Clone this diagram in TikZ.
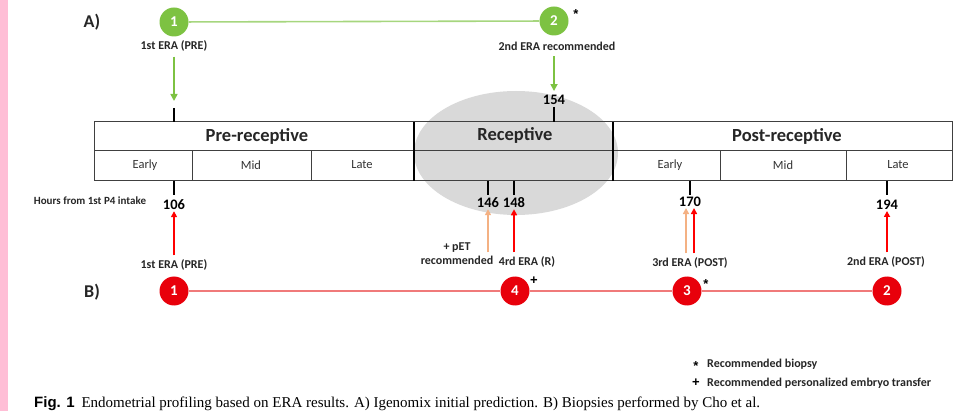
\documentclass[tikz,border=0pt]{standalone}
\usepackage{fontspec}
\setmainfont{Carlito}
\newfontfamily\capserif{Liberation Serif}
\newfontfamily\capsans{Liberation Sans}
\usetikzlibrary{arrows.meta,positioning,calc}
\definecolor{eragreen}{HTML}{7DC242}
\definecolor{eragreenline}{HTML}{A6D67E}
\definecolor{erared}{HTML}{E8000B}
\definecolor{eraredline}{HTML}{F07A7A}
\definecolor{arrred}{HTML}{FF0000}
\definecolor{arrpeach}{HTML}{F4B183}
\definecolor{recgrey}{HTML}{D9D9D9}
\definecolor{edgepink}{HTML}{FFBED6}
\begin{document}
\begin{tikzpicture}
% 1 unit = 1pt = 1px of the reference, y grows downwards
[x=1pt,y=-1pt,
 dot/.style={circle,minimum size=29pt,inner sep=0pt,text=white,font=\fontsize{15}{15}\selectfont\bfseries},
 gdot/.style={dot,fill=eragreen},
 rdot/.style={dot,fill=erared},
 lbl/.style={inner sep=1pt,font=\fontsize{12}{14}\selectfont\bfseries,text=black!85},
 num/.style={inner sep=1pt,font=\fontsize{14.5}{14.5}\selectfont\bfseries},
 phase/.style={font=\fontsize{18.5}{18.5}\selectfont\bfseries,text=black!85},
 cell/.style={font=\fontsize{12.5}{12.5}\selectfont,text=black!80},
 part/.style={font=\fontsize{18}{18}\selectfont\bfseries,text=black!85},
 supmark/.style={inner sep=0pt,font=\capsans\fontsize{13}{13}\selectfont\bfseries},
 boxline/.style={draw=black!75,line width=1pt},
 divider/.style={draw=black,line width=2.8pt},
 tick/.style={draw=black,line width=2.6pt},
 garrow/.style={draw=eragreen,line width=1.6pt,-{Triangle[width=7pt,length=7pt]}},
 rarrow/.style={draw=arrred,line width=2pt,-{Triangle[width=6pt,length=6pt]}},
 parrow/.style={draw=arrpeach,line width=2pt,-{Triangle[width=6pt,length=6pt]}}]
\useasboundingbox (0,0) rectangle (960,411);
\clip (0,0) rectangle (960,411);
\fill[edgepink] (0,0) rectangle (8,411);
% receptive window
\fill[recgrey] (516,153) ellipse [x radius=102,y radius=62];
% phase table
\draw[boxline] (94,122) rectangle (952,181);
\draw[boxline] (94,151) -- (952,151);
\foreach \x in {192,311,720,846}{
	\draw[boxline] (\x,151) -- (\x,181);}
\draw[divider] (414,122) -- (414,181);
\draw[divider] (613,122) -- (613,181);
\node[phase] (pre) at (257,136) {Pre-receptive};
\node[phase] (rec) at (515,135) {Receptive};
\node[phase] (post) at (787,136) {Post-receptive};
\foreach \x/\t [count=\i] in {145/Early,251/Mid,362/Late,670/Early,783/Mid,898/Late}{
	\node[cell] (c\i) at (\x,165) {\t};}
% A) initial prediction
\node[part] (pa) at (92,22) {A)};
\node[gdot] (g1) at (174,22) {1};
\node[gdot] (g2) at (554,21) {2};
\draw[eragreenline,line width=1.6pt] (g1) -- (g2);
\node[supmark] (g2s) at ($(g2.center)+(22,-7)$) {*};
\node[lbl] (g1lbl) at (174,46) {1st ERA (PRE)};
\node[lbl] (g2lbl) at (557,46) {2nd ERA recommended};
\coordinate (t106) at (174,108);
\draw[tick] (t106) -- (174,122);
\node[num] (n154) at (554,100) {154};
\draw[tick] (554,107) -- (554,122);
\draw[garrow,shorten <=4pt,shorten >=7pt] (g1lbl) -- (t106);
\draw[garrow,shorten <=5pt,shorten >=3pt] (n154 |- g2lbl.south) -- (n154.north);
% hours from 1st P4 intake
\node[inner sep=0pt,font=\fontsize{11}{11}\selectfont\bfseries,text=black!85] (hrs) at (90,201) {Hours from 1st P4 intake};
\foreach \x/\y/\n in {174/205/106,488/203/146,514/203/148,690/202/170,887/205/194}{
	\draw[tick] (\x,181) -- (\x,195);
	\node[num] (n\n) at (\x,\y) {\n};}
% B) biopsies performed
\node[part] (pb) at (92,292) {B)};
\node[rdot] (r1) at (174,291) {1};
\node[rdot] (r4) at (515,291) {4};
\node[rdot] (r3) at (687,291) {3};
\node[rdot] (r2) at (887,291) {2};
\draw[eraredline,line width=1.6pt] (r1) -- (r4) -- (r3) -- (r2);
\node[supmark] (r4s) at ($(r4.center)+(19,-10)$) {+};
\node[supmark] (r3s) at ($(r3.center)+(19,-7)$) {*};
\node[lbl] (r1lbl) at (174,265) {1st ERA (PRE)};
\node[lbl,align=center] (petlbl) at (457,254) {+ pET\\recommended};
\node[lbl] (r4lbl) at (527,262) {4rd ERA (R)};
\node[lbl] (r3lbl) at (690,263) {3rd ERA (POST)};
\node[lbl] (r2lbl) at (886,262) {2nd ERA (POST)};
\draw[rarrow,shorten <=3pt] (n106 |- r1lbl.north) -- (n106.south);
\draw[parrow,shorten <=3pt] (n146 |- r4lbl.north) -- (n146.south);
\draw[rarrow,shorten <=3pt] (n148 |- r4lbl.north) -- (n148.south);
\draw[parrow,shorten <=3pt] ($(n170 |- r3lbl.north)+(-4,0)$) -- ($(n170.south)+(-4,0)$);
\draw[rarrow,shorten <=3pt] ($(n170 |- r3lbl.north)+(4,0)$) -- ($(n170.south)+(4,0)$);
\draw[rarrow,shorten <=3pt] (n194 |- r2lbl.north) -- (n194.south);
% legend
\node[supmark] (lm1) at (696,366) {*};
\node[lbl,anchor=west] (lt1) at (706,364) {Recommended biopsy};
\node[supmark] (lm2) at (696,383) {+};
\node[lbl,anchor=west] (lt2) at (706,383) {Recommended personalized embryo transfer};
% caption
\node[anchor=base west,inner sep=0pt,font=\fontsize{15}{15}\selectfont] (cap) at (34,407.5)
	{{\capsans\bfseries Fig. 1}\ \ {\capserif Endometrial profiling based on ERA results. A) Igenomix initial prediction. B) Biopsies performed by Cho et al.}};
\end{tikzpicture}
\end{document}
